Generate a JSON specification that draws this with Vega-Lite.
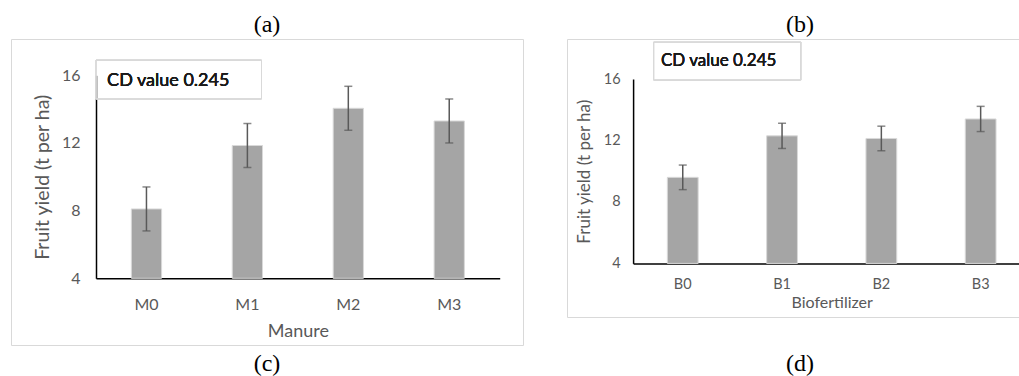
{
  "$schema": "https://vega.github.io/schema/vega-lite/v6.json",
  "background": "white",
  "padding": {"left": 10, "top": 12, "right": 0, "bottom": 0},
  "datasets": {
    "manure": [
      {"treatment": "M0", "yield": 8.1, "se": 1.3},
      {"treatment": "M1", "yield": 11.85, "se": 1.3},
      {"treatment": "M2", "yield": 14.05, "se": 1.3},
      {"treatment": "M3", "yield": 13.3, "se": 1.3}
    ],
    "bio": [
      {"treatment": "B0", "yield": 9.6, "se": 0.8},
      {"treatment": "B1", "yield": 12.3, "se": 0.82},
      {"treatment": "B2", "yield": 12.13, "se": 0.8},
      {"treatment": "B3", "yield": 13.4, "se": 0.82}
    ]
  },
  "spacing": 42,
  "hconcat": [
    {
      "title": {"text": "(c)", "orient": "bottom", "anchor": "middle", "offset": 6},
      "vconcat": [
        {
          "title": {"text": "(a)", "anchor": "middle"},
          "width": 512,
          "height": 306,
          "data": {"name": "manure"},
          "encoding": {
            "x": {
              "field": "treatment", "type": "nominal", "sort": null,
              "scale": {"range": [85, 488.7], "paddingInner": 0, "paddingOuter": 0},
              "axis": {"title": "Manure", "offset": -66.7, "labelPadding": 18, "titlePadding": 10, "labelFontSize": 16, "titleFontSize": 18}
            }
          },
          "layer": [
            {
              "mark": {"type": "bar", "width": {"band": 0.3}, "fill": "#a5a5a5", "stroke": "#d9d9d9", "strokeWidth": 1},
              "encoding": {
                "y": {
                  "field": "yield", "type": "quantitative", "title": "Fruit yield (t per ha)",
                  "scale": {"domain": [4, 16], "range": [239.3, 36.3], "nice": false, "zero": false},
                  "axis": {"values": [4, 8, 12, 16], "offset": -85, "domain": true, "labelPadding": 16, "titlePadding": 9, "labelFontSize": 16, "titleFontSize": 19.5}
                },
                "y2": {"datum": 4}
              }
            },
            {
              "mark": {"type": "errorbar", "ticks": {"size": 8}, "color": "#595959", "thickness": 1.5},
              "encoding": {
                "y": {"field": "yield", "type": "quantitative", "title": "Fruit yield (t per ha)"},
                "yError": {"field": "se"}
              }
            },
            {
              "mark": {"type": "rect", "fill": "white", "fillOpacity": 0, "stroke": "#d9d9d9", "strokeWidth": 1},
              "encoding": {
                "x": {"datum": "M0", "bandPosition": 0},
                "x2": {"datum": "M1", "bandPosition": 0.64},
                "y": {"datum": 16.9},
                "y2": {"datum": 14.6}
              }
            },
            {
              "mark": {"type": "text", "text": "CD value 0.245", "align": "left", "baseline": "middle", "font": "Lato", "fontSize": 18, "fontWeight": "normal", "color": "#1a1a1a"},
              "encoding": {
                "x": {"datum": "M0", "bandPosition": 0.11},
                "y": {"datum": 15.66}
              }
            }
          ]
        }
      ]
    },
    {
      "title": {"text": "(d)", "orient": "bottom", "anchor": "middle", "offset": 34},
      "vconcat": [
        {
          "title": {"text": "(b)", "anchor": "middle"},
          "width": 466,
          "height": 278,
          "data": {"name": "bio"},
          "encoding": {
            "x": {
              "field": "treatment", "type": "nominal", "sort": null,
              "scale": {"range": [66.1, 463.3], "paddingInner": 0, "paddingOuter": 0},
              "axis": {"title": "Biofertilizer", "offset": -53.6, "labelPadding": 14, "titlePadding": 4, "labelFontSize": 14.5, "titleFontSize": 16}
            }
          },
          "layer": [
            {
              "mark": {"type": "bar", "width": {"band": 0.31}, "fill": "#a5a5a5", "stroke": "#d9d9d9", "strokeWidth": 1},
              "encoding": {
                "y": {
                  "field": "yield", "type": "quantitative", "title": "Fruit yield (t per ha)",
                  "scale": {"domain": [4, 16], "range": [224.4, 40], "nice": false, "zero": false},
                  "axis": {"values": [4, 8, 12, 16], "offset": -66.1, "domain": true, "labelPadding": 13, "titlePadding": 10, "labelFontSize": 14.5, "titleFontSize": 17}
                },
                "y2": {"datum": 4}
              }
            },
            {
              "mark": {"type": "errorbar", "ticks": {"size": 8}, "color": "#595959", "thickness": 1.5},
              "encoding": {
                "y": {"field": "yield", "type": "quantitative", "title": "Fruit yield (t per ha)"},
                "yError": {"field": "se"}
              }
            },
            {
              "mark": {"type": "rect", "fill": "white", "fillOpacity": 0, "stroke": "#d9d9d9", "strokeWidth": 1},
              "encoding": {
                "x": {"datum": "B0", "bandPosition": 0.207},
                "x2": {"datum": "B1", "bandPosition": 0.69},
                "y": {"datum": 18.4},
                "y2": {"datum": 15.93}
              }
            },
            {
              "mark": {"type": "text", "text": "CD value 0.245", "align": "left", "baseline": "middle", "font": "Lato", "fontSize": 17, "fontWeight": "normal", "color": "#1a1a1a"},
              "encoding": {
                "x": {"datum": "B0", "bandPosition": 0.28},
                "y": {"datum": 17.17}
              }
            }
          ]
        }
      ]
    }
  ],
  "config": {
    "view": {"stroke": "#d9d9d9", "strokeWidth": 1},
    "title": {"font": "Liberation Serif", "fontSize": 24, "fontWeight": "normal", "color": "#000000", "offset": 2},
    "axis": {
      "grid": false, "ticks": false,
      "domainColor": "#000000", "domainWidth": 1.5,
      "labelFont": "Lato", "labelColor": "#595959", "labelAngle": 0,
      "titleFont": "Lato", "titleFontWeight": "normal", "titleColor": "#595959"
    }
  }
}
